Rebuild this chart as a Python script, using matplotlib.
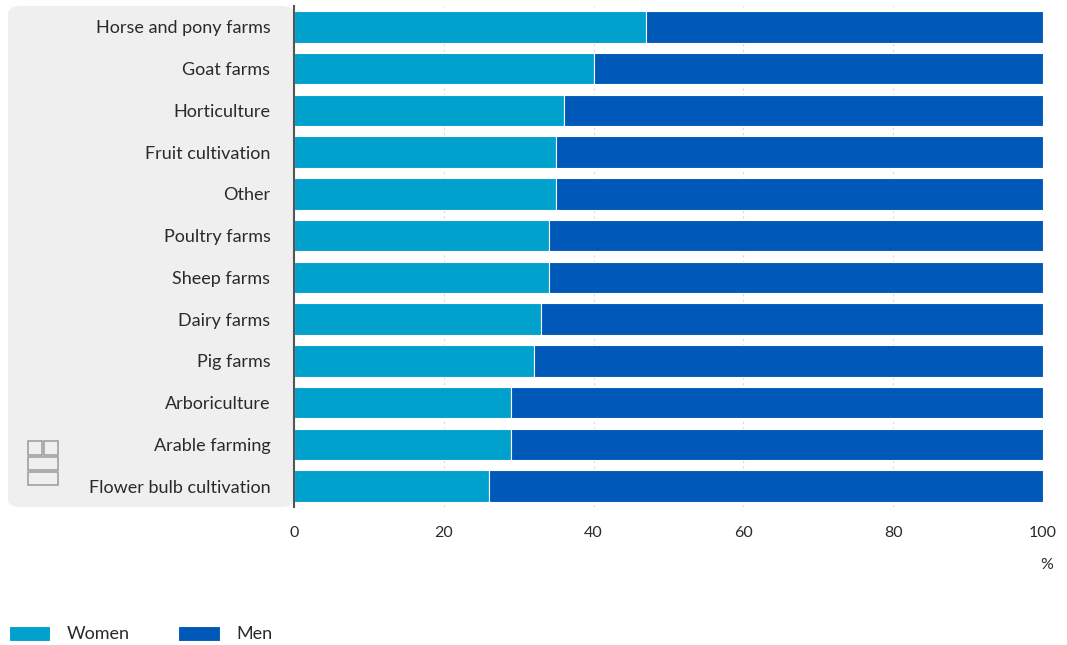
import numpy as np
import matplotlib.pyplot as plt
from matplotlib.patches import FancyBboxPatch, Rectangle

categories = ["Horse and pony farms", "Goat farms", "Horticulture", "Fruit cultivation",
              "Other", "Poultry farms", "Sheep farms", "Dairy farms", "Pig farms",
              "Arboriculture", "Arable farming", "Flower bulb cultivation"]
women = np.array([47, 40, 36, 35, 35, 34, 34, 33, 32, 29, 29, 26])
men = 100 - women

c_women = "#00a1cd"
c_men = "#0058b8"
txt = "#2a2a2a"

plt.rcParams['font.family'] = ['Lato', 'DejaVu Sans']

fig = plt.figure(figsize=(10.67, 6.45), dpi=100)
W, H = 1067, 645

# grey label panel behind the category names
panel = FancyBboxPatch((8 / W, 1 - 507 / H), (294 - 8) / W, (507 - 6) / H,
                       boxstyle="round,pad=0,rounding_size=0.012",
                       transform=fig.transFigure, facecolor="#efefef",
                       edgecolor="none", zorder=-5)
fig.patches.append(panel)

ax = fig.add_axes([294 / W, 1 - 507 / H, (1043 - 294) / W, (507 - 6) / H])
ax.patch.set_alpha(0)

y = np.arange(len(categories))
ax.barh(y, women, height=0.76, color=c_women, edgecolor="white", linewidth=0.8, label="Women")
ax.barh(y, men, left=women, height=0.76, color=c_men, edgecolor="white", linewidth=0.8, label="Men")

ax.set_ylim(len(categories) - 0.5, -0.5)
ax.set_xlim(0, 100)
ax.set_yticks(y)
ax.set_yticklabels(categories, fontsize=13, color=txt)
ax.set_xticks([0, 20, 40, 60, 80, 100])
ax.tick_params(axis="y", length=0, pad=17)
ax.tick_params(axis="x", length=0, pad=14, labelsize=11.5, labelcolor=txt)
ax.xaxis.grid(True, color="#d8d8d8", linestyle=(0, (2, 3)), linewidth=0.8)
ax.set_axisbelow(True)
for s in ["top", "right", "bottom"]:
    ax.spines[s].set_visible(False)
ax.spines["left"].set_color("#555555")
ax.spines["left"].set_linewidth(1.5)

fig.text(1047 / W, 1 - 565 / H, "%", ha="center", va="center", fontsize=11.5, color=txt)

# cbs logo, rough outline
lc = "#a0a0a0"
for (x0, y0, w, h) in [(28, 441, 14, 14), (44, 441, 14, 14), (28, 457, 30, 13), (28, 472, 30, 13)]:
    fig.patches.append(Rectangle((x0 / W, 1 - (y0 + h) / H), w / W, h / H,
                                 transform=fig.transFigure, fill=False,
                                 edgecolor=lc, linewidth=1.2))

# legend
fig.legend(handles=ax.containers, labels=["Women", "Men"], loc="center left",
           bbox_to_anchor=(-4 / W, 1 - 634 / H), ncol=2, frameon=False, fontsize=13,
           handlelength=2.3, handleheight=0.95, handletextpad=0.9, columnspacing=2.7,
           labelcolor=txt, borderaxespad=0.3)

fig.savefig("out.png", dpi=100)
